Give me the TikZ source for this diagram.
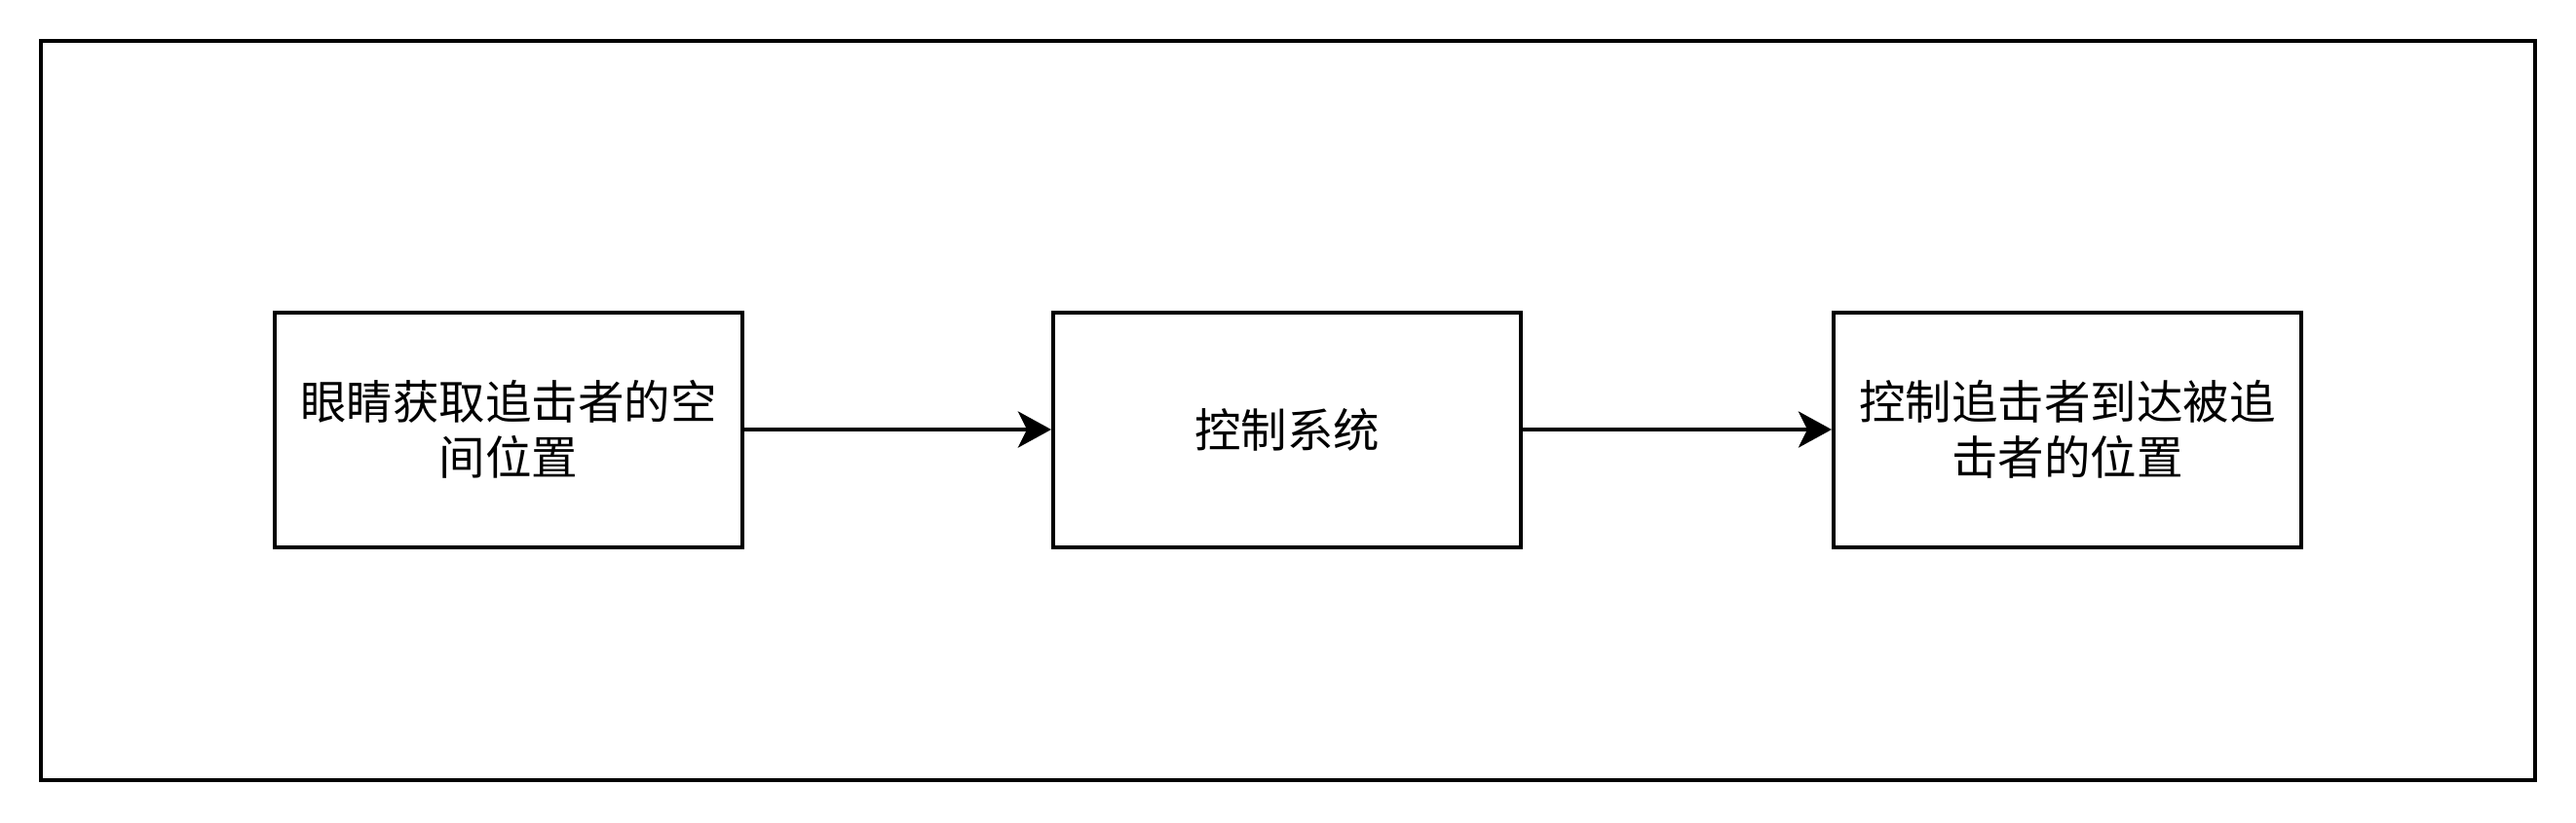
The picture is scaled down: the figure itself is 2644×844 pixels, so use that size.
\documentclass[tikz,border=0pt]{standalone}
\usepackage{fontspec}
\setmainfont{Noto Sans CJK SC}
\usetikzlibrary{arrows.meta}
\begin{document}
\begin{tikzpicture}[x=1pt,y=-1pt,
  blk/.style={draw=black,line width=4pt,minimum width=480pt,minimum height=241pt,inner sep=0pt,align=center,
    font=\fontsize{47.5pt}{57pt}\selectfont},
  conn/.style={line width=4pt,-{Stealth[length=34pt,width=37pt,inset=9pt]}}]
\useasboundingbox (0,0) rectangle (2644,844);
\node[draw=black,line width=4pt,minimum width=2560pt,minimum height=759pt,inner sep=0pt] (frame) at (1322,421.5) {};
\node[blk] (b1) at (522,441) {眼睛获取追击者的空\\间位置};
\node[blk] (b2) at (1321,441) {控制系统};
\node[blk] (b3) at (2122,441) {控制追击者到达被追\\击者的位置};
\draw[conn] (b1) -- (b2);
\draw[conn] (b2) -- (b3);
\end{tikzpicture}
\end{document}
